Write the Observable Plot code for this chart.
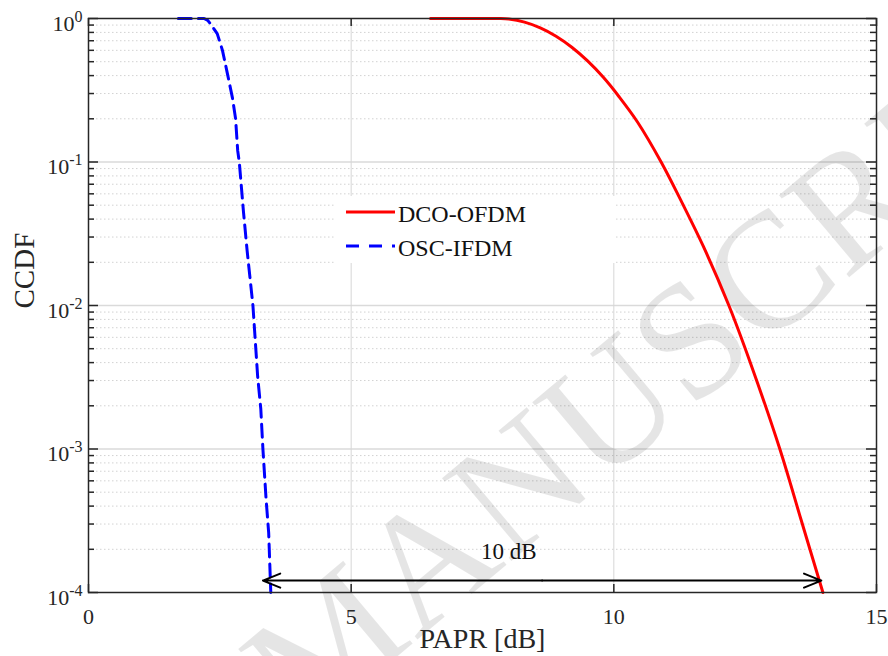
<!DOCTYPE html>
<html><head><meta charset="utf-8">
<script src="https://cdn.jsdelivr.net/npm/d3@7"></script>
<script src="https://cdn.jsdelivr.net/npm/@observablehq/plot@0.6"></script>
<style>body{margin:0;background:#fff;} svg{display:block}</style>
</head><body><div id="chart"></div>
<script>
// ---- data ----
const seriesNames = ["DCO-OFDM", "OSC-IFDM"];
const dcoX = [6.51, 7.0, 7.5, 7.8, 8.0, 8.3, 8.6, 8.9, 9.2, 9.5, 9.8, 10.1, 10.45, 10.9, 11.3, 11.7, 12.19, 12.6, 13.16, 13.57, 13.98];
const dcoY = [1.0, 1.0, 1.0, 0.999, 0.991, 0.943, 0.860, 0.752, 0.630, 0.506, 0.389, 0.285, 0.19, 0.1, 0.0519, 0.026, 0.01, 0.00398, 0.001, 3.16e-4, 1.0e-4];
const oscX = [1.71, 2.2, 2.27, 2.32, 2.45, 2.55, 2.64, 2.74, 2.80, 2.84, 2.87, 2.95, 3.02, 3.13, 3.22, 3.28, 3.32, 3.38, 3.43, 3.47];
const oscY = [1.0, 1.0, 0.97, 0.92, 0.785, 0.6, 0.42, 0.28, 0.2, 0.12, 0.1, 0.045, 0.024, 0.01, 0.0032, 0.0019, 0.001, 4.5e-4, 2.6e-4, 1.0e-4];
const xTicks = [0, 5, 10, 15];
const yExponents = [-4, -3, -2, -1, 0];
const arrowEnds = [3.32, 13.95];
const arrowY = 1.21e-4;
const arrowLabel = "10 dB";
const arrowLabelX = 8.0;
const arrowLabelY = 1.7e-4;
const xTitle = "PAPR [dB]";
const yTitle = "CCDF";
const watermark = "MANUSCRIPT";

// ---- derived tables ----
const dco = dcoX.map((x, i) => ({x, y: dcoY[i]}));
const osc = oscX.map((x, i) => ({x, y: oscY[i]}));
const decades = yExponents.map(e => 10 ** e);
const minorY = [];
for (const e of yExponents.slice(0, -1)) for (let m = 2; m <= 9; m++) minorY.push(m * 10 ** e);
const mid = (arrowEnds[0] + arrowEnds[1]) / 2;

const W = 888, H = 656, mL = 88, mR = 12, mT = 18, mB = 64;
const fw = W - mL - mR, fh = H - mT - mB;
const ink = "#262626";
const font = "'Liberation Serif','Times New Roman',serif";

const plot = Plot.plot({
  width: W, height: H,
  marginLeft: mL, marginRight: mR, marginTop: mT, marginBottom: mB,
  x: {domain: [0, 15], axis: null},
  y: {type: "log", domain: [1e-4, 1], axis: null},
  style: {fontFamily: font, background: "#fff", color: ink},
  marks: [
    Plot.ruleY(minorY, {stroke: "#d2d2d2", strokeWidth: 1, strokeDasharray: "1.5,2.5"}),
    Plot.ruleY(decades.slice(1, -1), {stroke: "#dadada", strokeWidth: 1.6}),
    Plot.ruleX([5, 10], {stroke: "#d6d6d6", strokeWidth: 1}),
    Plot.text([watermark], {x: () => 11.21, y: () => 4.7e-3, text: d => d, rotate: -40, fontSize: 165, fill: "#000", fillOpacity: 0.1}),
    Plot.line(dco, {x: "x", y: "y", stroke: "#ff0000", strokeWidth: 3, curve: "catmull-rom"}),
    Plot.line(osc, {x: "x", y: "y", stroke: "#0000ff", strokeWidth: 3, strokeDasharray: "13,7"}),
    Plot.arrow(arrowEnds, {x1: () => mid, x2: d => d, y1: () => arrowY, y2: () => arrowY, stroke: "#000", strokeWidth: 2, headLength: 14, headAngle: 44}),
    Plot.text([arrowLabel], {x: () => arrowLabelX, y: () => arrowLabelY, text: d => d, lineAnchor: "bottom", fontSize: 23, fill: "#111"}),
    Plot.frame({stroke: ink, strokeWidth: 1.5}),
    // inward ticks
    Plot.ruleY(decades, {stroke: ink, strokeWidth: 1.5, insetRight: fw - 10}),
    Plot.ruleY(minorY, {stroke: ink, strokeWidth: 1.5, insetRight: fw - 6}),
    Plot.ruleY(decades, {stroke: ink, strokeWidth: 1.5, insetLeft: fw - 10}),
    Plot.ruleY(minorY, {stroke: ink, strokeWidth: 1.5, insetLeft: fw - 6}),
    Plot.ruleX(xTicks, {stroke: ink, strokeWidth: 1.5, insetBottom: fh - 8}),
    Plot.ruleX(xTicks, {stroke: ink, strokeWidth: 1.5, insetTop: fh - 8}),
    // tick labels
    Plot.text(yExponents, {x: () => 0, y: e => 10 ** e, text: e => "10^" + e, textAnchor: "end", dx: -6, dy: 5, fontSize: 22, fill: ink}),
    Plot.text(xTicks, {x: d => d, y: () => 1e-4, text: d => String(d), lineAnchor: "bottom", dy: 31, fontSize: 22, fill: ink}),
    // titles
    Plot.text([xTitle], {frameAnchor: "bottom", text: d => d, lineAnchor: "bottom", dy: 55, fontSize: 28, fill: ink}),
    Plot.text([yTitle], {frameAnchor: "left", text: d => d, lineAnchor: "bottom", rotate: -90, dx: -55, dy: 3, fontSize: 29, fill: ink})
  ]
});

// superscript exponents on the y tick labels
d3.select(plot).selectAll("text").each(function () {
  const t = this.textContent;
  if (t.startsWith("10^")) {
    const exp = t.slice(3);
    this.textContent = "";
    d3.select(this).append("tspan").text("10");
    d3.select(this).append("tspan").attr("font-size", 16).attr("dy", -9).text(exp);
  }
});

// legend
const svg = d3.select(plot);
const lg = svg.append("g").attr("font-family", font).attr("font-size", 24).attr("fill", "#111").attr("text-anchor", "start");
lg.append("rect").attr("x", 335).attr("y", 196).attr("width", 281).attr("height", 67).attr("fill", "#fff");
const legendColors = ["#ff0000", "#0000ff"];
const legendDash = [null, "13,10"];
seriesNames.forEach((name, i) => {
  const cy = 212 + i * 34;
  lg.append("line").attr("x1", 346).attr("x2", 395).attr("y1", cy).attr("y2", cy)
    .attr("stroke", legendColors[i]).attr("stroke-width", 3).attr("stroke-dasharray", legendDash[i]);
  lg.append("text").attr("x", 398).attr("y", cy + 10).attr("text-anchor", "start").text(name);
});

document.getElementById("chart").appendChild(plot);
</script>
</body></html>
